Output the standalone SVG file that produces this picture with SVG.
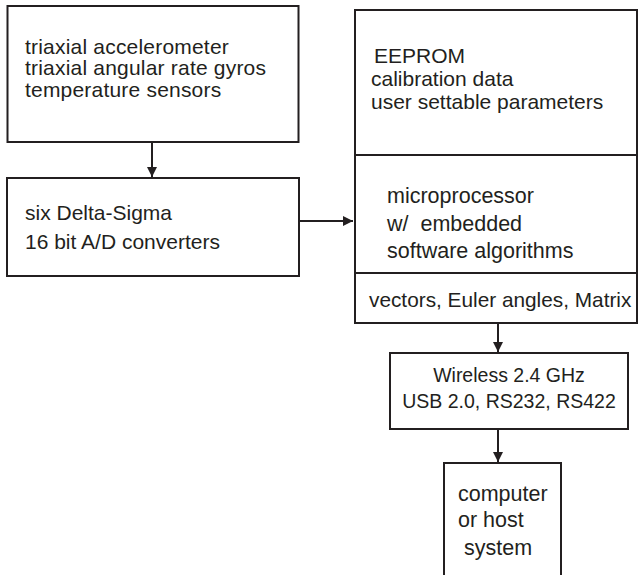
<svg xmlns="http://www.w3.org/2000/svg" width="639" height="575" viewBox="0 0 639 575">
<style>
.box{fill:#fff;stroke:#231f20;stroke-width:2}
.ln{fill:none;stroke:#231f20;stroke-width:2}
text{font-family:"Liberation Sans",Arial,sans-serif;font-size:21px;fill:#231f20}
.c{text-anchor:middle}
.l{font-size:21.5px}
.t{font-size:21px;letter-spacing:0.2px}
.s{font-size:19.5px}
.v{font-size:20.8px}
</style>
<defs>
<marker id="ah" viewBox="0 0 10 10" refX="10" refY="5" markerWidth="5" markerHeight="5" orient="auto" markerUnits="strokeWidth">
<path d="M0,0 L10,5 L0,10 z" fill="#231f20"/>
</marker>
</defs>
<rect width="639" height="575" fill="#fff"/>
<g id="connectors">
<line class="ln" x1="152" y1="142" x2="152" y2="177" marker-end="url(#ah)"/>
<line class="ln" x1="299" y1="221" x2="353" y2="221" marker-end="url(#ah)"/>
<line class="ln" x1="498" y1="323" x2="498" y2="352" marker-end="url(#ah)"/>
<line class="ln" x1="498" y1="429" x2="498" y2="462" marker-end="url(#ah)"/>
</g>
<g id="sensors">
<rect class="box" x="7.5" y="6" width="291" height="136"/>
<text class="t" x="25" y="53.5">triaxial accelerometer</text>
<text class="t" x="25" y="75">triaxial angular rate gyros</text>
<text class="t" x="25" y="96.5">temperature sensors</text>
</g>
<g id="adc">
<rect class="box" x="7" y="178" width="292" height="98"/>
<text x="25" y="220">six Delta-Sigma</text>
<text x="25" y="249">16 bit A/D converters</text>
</g>
<g id="processor">
<rect class="box" x="355" y="10" width="282" height="313"/>
<line class="ln" x1="355" y1="155" x2="637" y2="155"/>
<line class="ln" x1="355" y1="273" x2="637" y2="273"/>
<text x="374" y="63">EEPROM</text>
<text x="371" y="86">calibration data</text>
<text x="371" y="109">user settable parameters</text>
<text class="l" x="387" y="203">microprocessor</text>
<text class="l" x="387" y="231">w/&#160; embedded</text>
<text class="l" x="387" y="258">software algorithms</text>
<text class="v" x="369" y="307">vectors, Euler angles, Matrix</text>
</g>
<g id="interface">
<rect class="box" x="390" y="353" width="238" height="76"/>
<text class="c s" x="509" y="382">Wireless 2.4 GHz</text>
<text class="c s" x="509" y="408">USB 2.0, RS232, RS422</text>
</g>
<g id="host">
<path class="ln" d="M444,576 V463 H561 V576"/>
<text class="l" x="458" y="501">computer</text>
<text class="l" x="458" y="527">or host</text>
<text class="l" x="464" y="555">system</text>
</g>
</svg>
